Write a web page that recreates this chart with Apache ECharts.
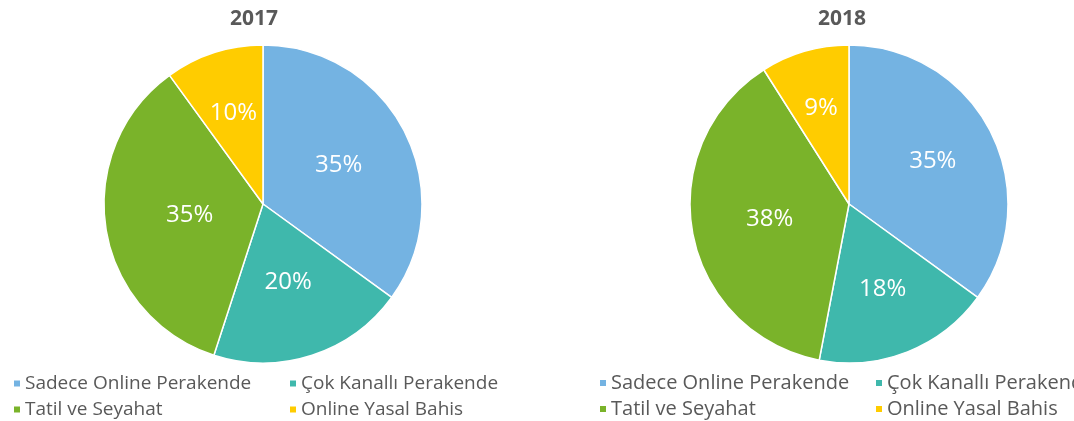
<!DOCTYPE html>
<html><head><meta charset="utf-8">
<script src="https://cdn.jsdelivr.net/npm/echarts@6/dist/echarts.min.js"></script>
<style>html,body{margin:0;padding:0;background:#fff}#c{width:1074px;height:421px}</style>
</head><body><div id="c"></div>
<script>
const categories = ['Sadece Online Perakende', 'Çok Kanallı Perakende', 'Tatil ve Seyahat', 'Online Yasal Bahis'];
const years = ['2017', '2018'];
const values2017 = [35, 20, 35, 10];
const values2018 = [35, 18, 38, 9];
const colors = ['#74B3E2', '#3FB8AC', '#7AB32A', '#FFCC00'];

const chart = echarts.init(document.getElementById('c'));
const font = '"Open Sans", sans-serif';
const centers = [[263, 204], [849, 204]];
const titleX = [249, 837];
const legendPos = [
  [[12, 374], [288, 374], [12, 400], [288, 400]],
  [[598, 373], [874, 373], [598, 399], [874, 399]]
];
const legendFont = [19, 20];
const allValues = [values2017, values2018];
// radial push of each inner label (style only)
const labelPush = [[1.03, 0.99, 0.9, 1.16], [1.14, 1.11, 0.98, 1.21]];

const series = allValues.map((vals, i) => ({
  type: 'pie',
  center: centers[i],
  radius: [0, 159],
  startAngle: 90,
  clockwise: true,
  animation: false,
  itemStyle: { borderColor: '#fff', borderWidth: 1.5 },
  label: {
    show: true, position: 'inner', formatter: '{c}%',
    color: '#fff', fontSize: 24, fontFamily: font
  },
  labelLine: { show: false },
  labelLayout: function (p) {
    const c = centers[i];
    const f = labelPush[i][p.dataIndex];
    const cx = p.labelRect.x + p.labelRect.width / 2;
    const cy = p.labelRect.y + p.labelRect.height / 2;
    return { x: c[0] + (cx - c[0]) * f, y: c[1] + (cy - c[1]) * f };
  },
  emphasis: { disabled: true },
  data: categories.map((c, k) => ({ name: c, value: vals[k], itemStyle: { color: colors[k] } }))
}));

const legends = [];
legendPos.forEach((pos, i) => {
  pos.forEach((p, k) => {
    legends.push({
      data: [categories[k]], left: p[0], top: p[1], padding: 0,
      icon: 'rect', itemWidth: 8, itemHeight: 8, selectedMode: false,
      textStyle: { color: '#595959', fontSize: legendFont[i], fontFamily: font, padding: [0, 0, 0, -1] }
    });
  });
});

chart.setOption({
  color: colors,
  title: years.map((y, i) => ({
    text: y, left: titleX[i], top: 4, textAlign: 'center',
    textStyle: { color: '#595959', fontSize: 21, fontWeight: 'bold', fontFamily: font }
  })),
  legend: legends,
  series: series
});
</script></body></html>
